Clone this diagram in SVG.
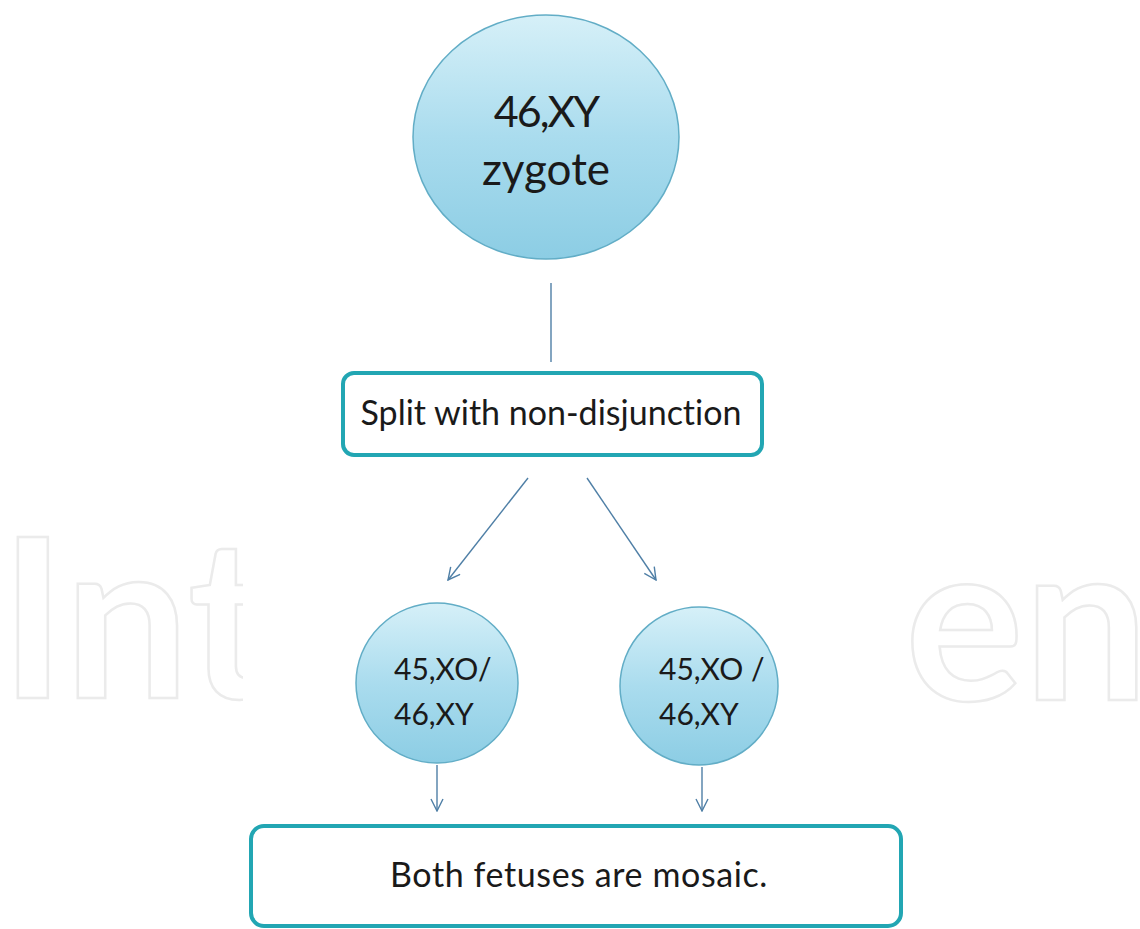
<svg xmlns="http://www.w3.org/2000/svg" width="1140" height="929" viewBox="0 0 1140 929">
<defs>
<linearGradient id="bub" x1="0" y1="0" x2="0" y2="1">
<stop offset="0" stop-color="#d6f0f8"/>
<stop offset="0.5" stop-color="#aadcee"/>
<stop offset="1" stop-color="#8ccde4"/>
</linearGradient>
<marker id="ah" viewBox="0 0 14 14" refX="13" refY="7" markerWidth="14" markerHeight="14" markerUnits="userSpaceOnUse" orient="auto">
<path d="M1,1 L13,7 L1,13" fill="none" stroke="#4f7fa6" stroke-width="1.4"/>
</marker>
<clipPath id="wl"><rect x="0" y="0" width="243" height="929"/></clipPath>
<clipPath id="wr"><rect x="905" y="0" width="235" height="929"/></clipPath>
</defs>
<style>
.bub{fill:url(#bub);stroke:#62adc6;stroke-width:1.5}
.box{fill:#ffffff;stroke:#22a6b3;stroke-width:4}
.t{font-family:Lato,"Open Sans",sans-serif;fill:#1a1a1a;font-variant-ligatures:none}
.wm{font-family:Lato,"Open Sans",sans-serif;font-weight:700;fill:none;stroke:#ebebeb;stroke-width:2.5;font-size:222px}
.con{stroke:#4f7fa6;stroke-width:1.4;fill:none}
</style>
<rect width="1140" height="929" fill="#ffffff"/>
<g id="watermark">
<text class="wm" x="0" y="698" clip-path="url(#wl)">Int</text>
<text class="wm" x="905" y="700" clip-path="url(#wr)">en</text>
</g>
<g id="connectors">
<line class="con" x1="551" y1="283" x2="551" y2="362"/>
<line class="con" x1="528" y1="478" x2="448" y2="580" marker-end="url(#ah)"/>
<line class="con" x1="587" y1="478" x2="656" y2="580" marker-end="url(#ah)"/>
<line class="con" x1="437" y1="765" x2="437" y2="811" marker-end="url(#ah)"/>
<line class="con" x1="702" y1="767" x2="702" y2="811" marker-end="url(#ah)"/>
</g>
<g id="zygote">
<ellipse class="bub" cx="546" cy="137" rx="133" ry="122"/>
<text class="t" x="546" y="127" font-size="43" letter-spacing="-2" text-anchor="middle">46,XY</text>
<text class="t" x="546" y="185" font-size="44" text-anchor="middle">zygote</text>
</g>
<g id="split">
<rect class="box" x="343" y="373" width="419" height="82" rx="11"/>
<text class="t" x="551" y="425" font-size="34" text-anchor="middle">Split with non-disjunction</text>
</g>
<g id="fetus1">
<ellipse class="bub" cx="437" cy="683" rx="81" ry="80"/>
<text class="t" x="394" y="680" font-size="30">45,XO/</text>
<text class="t" x="394" y="725" font-size="30">46,XY</text>
</g>
<g id="fetus2">
<ellipse class="bub" cx="699" cy="686" rx="79" ry="79"/>
<text class="t" x="659" y="680" font-size="30">45,XO /</text>
<text class="t" x="659" y="725" font-size="30">46,XY</text>
</g>
<g id="result">
<rect class="box" x="251" y="826" width="650" height="100" rx="13"/>
<text class="t" x="579" y="887" font-size="34" letter-spacing="0.6" text-anchor="middle">Both fetuses are mosaic.</text>
</g>
</svg>
